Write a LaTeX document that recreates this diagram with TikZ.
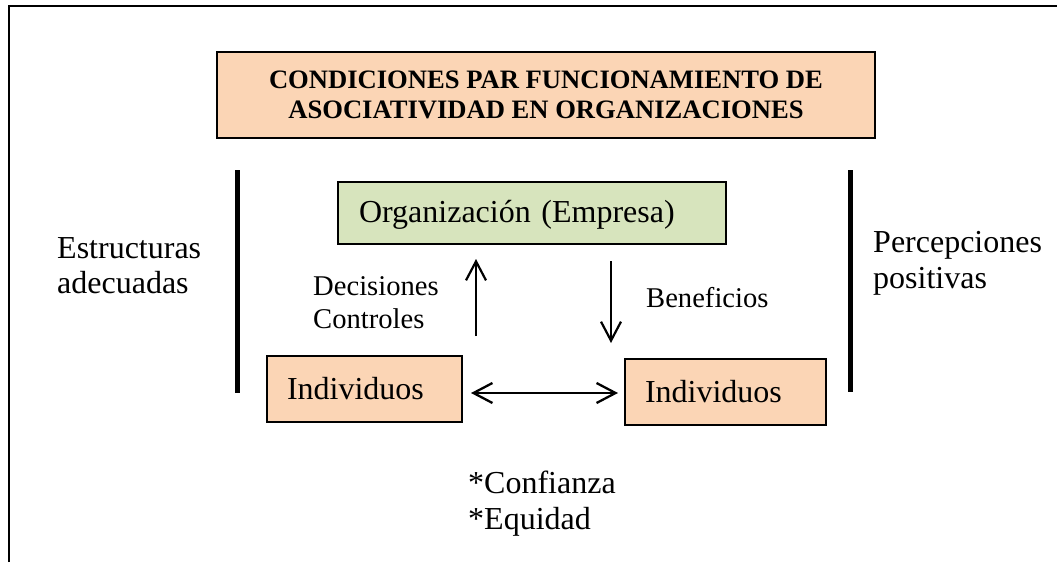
\documentclass[tikz,border=0pt]{standalone}
\usepackage{fontspec}
\setmainfont{Liberation Serif}
\usetikzlibrary{arrows.meta}
\definecolor{peach}{HTML}{FBD5B5}
\definecolor{olivebox}{HTML}{D7E4BD}
\begin{document}
\begin{tikzpicture}[x=1pt,y=-1pt,
  box/.style={draw=black, line width=1.2pt, inner ysep=0pt},
  body/.style={font=\fontsize{32}{36}\selectfont},
  small/.style={font=\fontsize{28.6}{33}\selectfont},
  txt/.style={inner sep=0pt, anchor=base west, align=left},
  arr/.style={line width=2.2pt, -{Straight Barb[length=19pt,width=20pt]}},
  dblarr/.style={line width=2.3pt, {Straight Barb[length=19pt,width=20pt]}-{Straight Barb[length=19pt,width=20pt]}},
  bar/.style={line width=5pt}]
\useasboundingbox (0,0) rectangle (1057,562);
% outer frame (partially visible)
\draw[line width=1.5pt] (9,562) -- (9,6) -- (1057,6);
% title
\node[box, fill=peach, minimum width=658pt, minimum height=86pt, align=center,
      font=\bfseries\fontsize{26.6}{30}\selectfont] (title) at (546,95)
  {CONDICIONES PAR FUNCIONAMIENTO DE\\ASOCIATIVIDAD EN ORGANIZACIONES};
% organization
\node[box, body, fill=olivebox, minimum height=62pt, text width=346pt, inner xsep=21pt,
      align=left, text height=22pt, text depth=4pt] (org) at (532,213) {Organización (Empresa)};
% individuals
\node[box, body, fill=peach, minimum height=66pt, text width=155pt, inner xsep=20pt,
      align=left, text height=22pt, text depth=2pt] (ind1) at (364.5,389) {Individuos};
\node[box, body, fill=peach, minimum height=66pt, text width=161pt, inner xsep=20pt,
      align=left, text height=22pt, text depth=2pt] (ind2) at (725.5,392) {Individuos};
% bars
\coordinate (lbt) at (237,170); \coordinate (lbb) at (237,393);
\coordinate (rbt) at (850,170); \coordinate (rbb) at (850,392);
\draw[bar] (lbt) -- (lbb);
\draw[bar] (rbt) -- (rbb);
% arrows
\coordinate (upA) at (476,336); \coordinate (upB) at (476,259);
\coordinate (dnA) at (611,261); \coordinate (dnB) at (611,343);
\coordinate (hA) at (471,393); \coordinate (hB) at (618,393);
\draw[arr] (upA) -- (upB);
\draw[arr] (dnA) -- (dnB);
\draw[dblarr] (hA) -- (hB);
% labels
\node[txt, body] (est1) at (57,258) {Estructuras};
\node[txt, body] (est2) at (57,293) {adecuadas};
\node[txt, body] (per1) at (873,252) {Percepciones};
\node[txt, body] (per2) at (873,288) {positivas};
\node[txt, small] (dec1) at (313,295) {Decisiones};
\node[txt, small] (dec2) at (313,328) {Controles};
\node[txt, small] (ben) at (646,307) {Beneficios};
\node[txt, body] (con1) at (468,493) {*Confianza};
\node[txt, body] (con2) at (468,529) {*Equidad};
\end{tikzpicture}
\end{document}
